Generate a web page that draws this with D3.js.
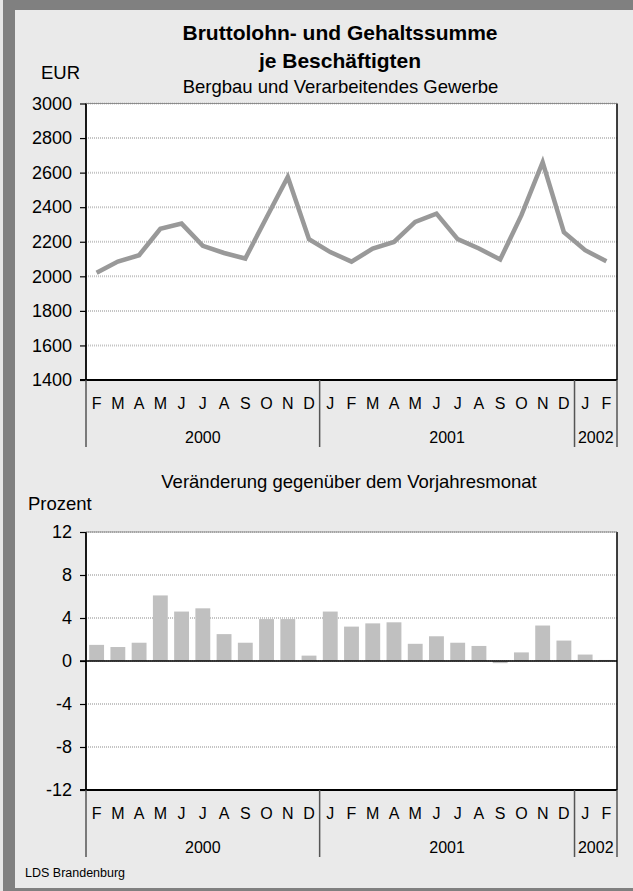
<!DOCTYPE html>
<html>
<head>
<meta charset="utf-8">
<script src="https://cdn.jsdelivr.net/npm/d3@7"></script>
<style>
  body { margin: 0; background: #e6e6e6; }
  svg { display: block; font-family: "Liberation Sans", Arial, sans-serif; }
</style>
</head>
<body>
<div id="chart"></div>
<script>
// Bruttolohn- und Gehaltssumme je Beschaeftigten, LDS Brandenburg

const months = ['F', 'M', 'A', 'M', 'J', 'J', 'A', 'S', 'O', 'N', 'D',
  'J', 'F', 'M', 'A', 'M', 'J', 'J', 'A', 'S', 'O', 'N', 'D',
  'J', 'F'];
const yearLabels = ['2000', '2001', '2002'];
const yearMonths = [11, 12, 2];

// EUR je Beschaeftigten
const wage = [2020, 2085, 2122, 2275, 2305, 2176, 2135, 2103, 2340, 2575, 2215,
  2140, 2085, 2160, 2199, 2315, 2363, 2215, 2161, 2097, 2354, 2660, 2255,
  2151, 2087];

// Veraenderung gegenueber Vorjahresmonat in Prozent
const change = [1.5, 1.3, 1.7, 6.1, 4.6, 4.9, 2.5, 1.7, 3.9, 3.9, 0.5,
  4.6, 3.2, 3.5, 3.6, 1.6, 2.3, 1.7, 1.4, -0.2, 0.8, 3.3, 1.9,
  0.6, 0.1];

const wageTicks = [1400, 1600, 1800, 2000, 2200, 2400, 2600, 2800, 3000];
const changeTicks = [-12, -8, -4, 0, 4, 8, 12];

const W = 633, H = 891;
const left = 86, right = 617;

const svg = d3.select('#chart').append('svg')
  .attr('width', W)
  .attr('height', H);

// frame
svg.append('rect').attr('x', 0).attr('y', 0).attr('width', W).attr('height', H).attr('fill', '#e6e6e6');
svg.append('rect').attr('x', 3).attr('y', 0).attr('width', W - 3).attr('height', H).attr('fill', '#808080');
svg.append('rect').attr('x', 15).attr('y', 10).attr('width', W - 15).attr('height', 878).attr('fill', '#eaeaea');

const x = d3.scaleBand()
  .domain(d3.range(months.length))
  .range([left, right]);

// plain hyphen for negatives, like the original
const plain = function (d) { return String(d); };

function drawPanel(top, bottom, y, ticks) {
  const g = svg.append('g');

  g.append('rect')
    .attr('x', left).attr('y', top)
    .attr('width', right - left).attr('height', bottom - top)
    .attr('fill', '#fff');

  // dotted grid
  g.selectAll('.grid')
    .data(ticks)
    .enter().append('line')
    .attr('x1', left).attr('x2', right)
    .attr('y1', function (d) { return y(d); })
    .attr('y2', function (d) { return y(d); })
    .attr('stroke', '#c4c4c4')
    .attr('stroke-width', 2)
    .attr('stroke-dasharray', '1 1');

  const yAxis = g.append('g')
    .attr('transform', 'translate(' + left + ',0)')
    .call(d3.axisLeft(y).tickValues(ticks).tickSize(6).tickPadding(8).tickFormat(plain));
  yAxis.select('.domain').remove();
  yAxis.selectAll('.tick line').attr('stroke', '#000').attr('stroke-width', 1.2);
  yAxis.selectAll('text')
    .attr('fill', '#000')
    .style('font-size', '18px')
    .style('font-family', '"Liberation Sans", Arial, sans-serif');

  // frame lines
  g.append('line')
    .attr('x1', left).attr('x2', left).attr('y1', top).attr('y2', bottom)
    .attr('stroke', '#000').attr('stroke-width', 1.8);
  g.append('line')
    .attr('x1', right).attr('x2', right).attr('y1', top).attr('y2', bottom)
    .attr('stroke', '#000').attr('stroke-width', 1.5);
  g.append('line')
    .attr('x1', left).attr('x2', right).attr('y1', top).attr('y2', top)
    .attr('stroke', '#777').attr('stroke-width', 0.8);
  g.append('line')
    .attr('x1', left - 6).attr('x2', right).attr('y1', bottom).attr('y2', bottom)
    .attr('stroke', '#000').attr('stroke-width', 2);

  // month labels
  const xAxis = g.append('g')
    .attr('transform', 'translate(0,' + bottom + ')')
    .call(d3.axisBottom(x).tickSize(0).tickPadding(20).tickFormat(function (i) { return months[i]; }));
  xAxis.select('.domain').remove();
  xAxis.selectAll('text')
    .attr('fill', '#000')
    .attr('dy', 0)
    .attr('y', 29)
    .style('font-size', '16px')
    .style('font-family', '"Liberation Sans", Arial, sans-serif');

  // year separators and labels
  let start = 0;
  const bounds = [0];
  yearMonths.forEach(function (n) { start += n; bounds.push(start); });

  g.selectAll('.sep')
    .data(bounds)
    .enter().append('line')
    .attr('x1', function (b) { return b < months.length ? x(b) : right; })
    .attr('x2', function (b) { return b < months.length ? x(b) : right; })
    .attr('y1', bottom)
    .attr('y2', bottom + 67)
    .attr('stroke', '#555')
    .attr('stroke-width', 1.5);

  g.selectAll('.year')
    .data(yearLabels)
    .enter().append('text')
    .attr('x', function (d, i) {
      const a = x(bounds[i]);
      const b = bounds[i + 1] < months.length ? x(bounds[i + 1]) : right;
      return (a + b) / 2;
    })
    .attr('y', bottom + 63)
    .attr('text-anchor', 'middle')
    .style('font-size', '16px')
    .text(function (d) { return d; });

  return g;
}

// ---- top panel: line ----
const y1 = d3.scaleLinear().domain([1400, 3000]).range([380, 103.5]);
const g1 = drawPanel(103.5, 380, y1, wageTicks);

const line = d3.line()
  .x(function (d, i) { return x(i) + x.bandwidth() / 2; })
  .y(function (d) { return y1(d); });

g1.append('path')
  .datum(wage)
  .attr('d', line)
  .attr('fill', 'none')
  .attr('stroke', '#999')
  .attr('stroke-width', 4.5);

// ---- bottom panel: bars ----
const y2 = d3.scaleLinear().domain([-12, 12]).range([790, 532]);
const g2 = drawPanel(532, 790, y2, changeTicks);

const barW = x.bandwidth() * 0.7;
g2.selectAll('.bar')
  .data(change)
  .enter().append('rect')
  .attr('x', function (d, i) { return x(i) + (x.bandwidth() - barW) / 2; })
  .attr('y', function (d) { return y2(Math.max(0, d)); })
  .attr('width', barW)
  .attr('height', function (d) { return Math.abs(y2(d) - y2(0)); })
  .attr('fill', '#c0c0c0');

g2.append('line')
  .attr('x1', left - 6).attr('x2', right)
  .attr('y1', y2(0)).attr('y2', y2(0))
  .attr('stroke', '#000').attr('stroke-width', 1.5);

// ---- texts ----
function label(txt, xPos, yPos, size, anchor, weight) {
  svg.append('text')
    .attr('x', xPos).attr('y', yPos)
    .attr('text-anchor', anchor)
    .style('font-size', size + 'px')
    .style('font-weight', weight || 'normal')
    .text(txt);
}

label('Bruttolohn- und Gehaltssumme', 340, 40, 21, 'middle', 'bold');
label('je Beschäftigten', 340, 68, 21, 'middle', 'bold');
label('Bergbau und Verarbeitendes Gewerbe', 340.5, 93, 18.5, 'middle');
label('EUR', 60.5, 79, 18.5, 'middle');
label('Veränderung gegenüber dem Vorjahresmonat', 349, 488, 18.5, 'middle');
label('Prozent', 28, 510, 18.5, 'start');
label('LDS Brandenburg', 25, 877, 12.5, 'start');
</script>
</body>
</html>
